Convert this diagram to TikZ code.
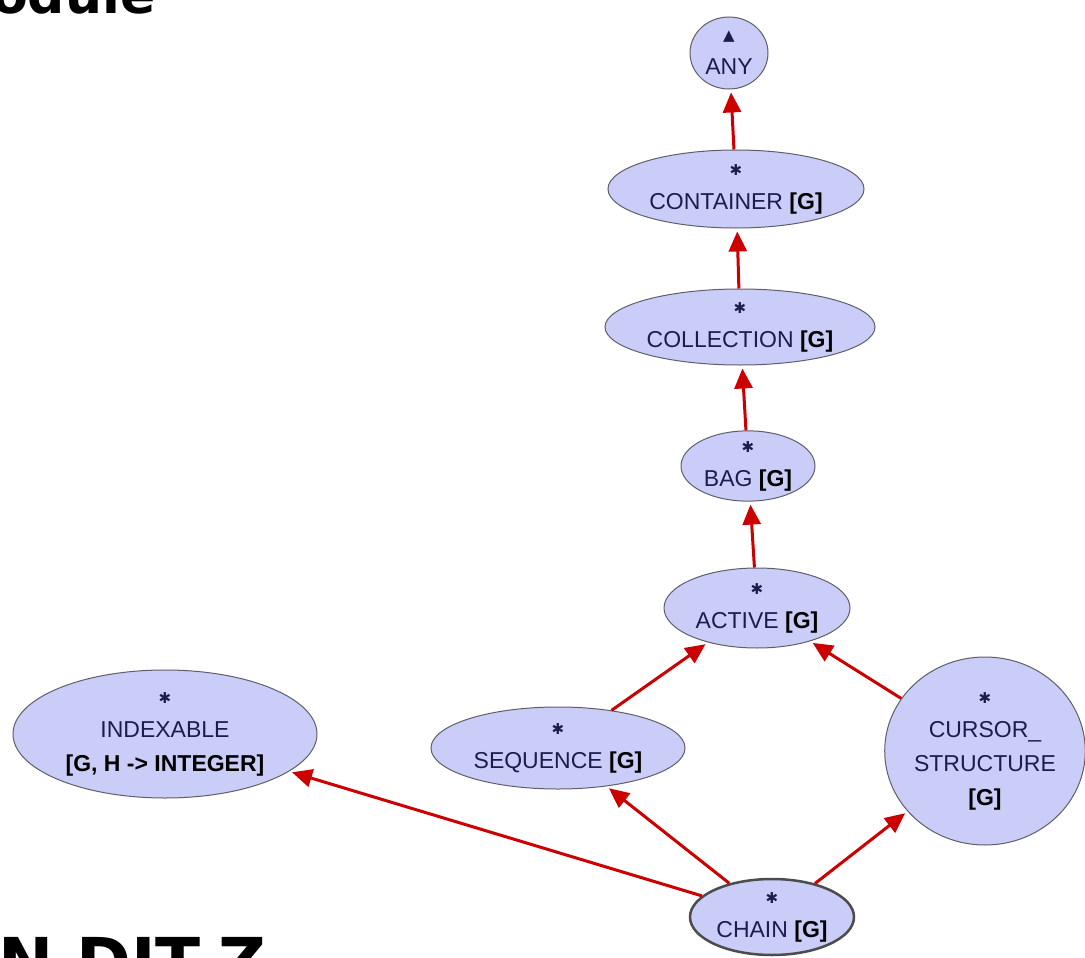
\documentclass[tikz,border=0pt]{standalone}
\usepackage{fontspec}
\setmainfont{Liberation Sans}
\newfontfamily\symfont{DejaVu Sans}
\usetikzlibrary{shapes,arrows.meta,positioning}

\definecolor{classfill}{RGB}{202,205,247}
\definecolor{classborder}{RGB}{95,95,105}
\definecolor{classtext}{RGB}{28,28,78}
\definecolor{inherit}{RGB}{204,0,0}

\newcommand{\deferredmark}{{\symfont\fontsize{15}{15}\selectfont\color{classtext}✱}}
\newcommand{\rootmark}{{\symfont\fontsize{15}{15}\selectfont\color{classtext}▲}}
\newcommand{\generic}[1]{\textbf{\color{black}#1}}

\tikzset{
  cls/.style={ellipse, draw=classborder, line width=1pt, fill=classfill, inner sep=0pt,
    align=center, text=classtext, font=\fontsize{23}{34}\selectfont},
  inh/.style={draw=inherit, line width=3pt, -{Triangle[length=20pt,width=18pt]}, shorten >=3pt},
  slide/.style={font=\symfont\bfseries\fontsize{#1}{#1}\selectfont, inner sep=0pt, text=black},
}

\begin{document}
\begin{tikzpicture}[x=1pt,y=-1pt]
  \fill[white] (0,0) rectangle (1085,958);
  \clip (0,0) rectangle (1085,958);
  % slide text cut by the frame
  \node[slide=52, anchor=base west] (title) at (-8,14) {odule};
  \node[slide=66, anchor=base west] (footer) at (-2,985) {N DIT-Z};
  %classes
  \node[cls, minimum width=78pt, minimum height=72pt] (any) at (729,53) {\rootmark\\ANY};
  \node[cls, minimum width=256pt, minimum height=78pt] (container) at (736,189) {\deferredmark\\CONTAINER \generic{[G]}};
  \node[cls, minimum width=270pt, minimum height=76pt] (collection) at (740,327) {\deferredmark\\COLLECTION \generic{[G]}};
  \node[cls, minimum width=134pt, minimum height=68pt] (bag) at (748,466) {\deferredmark\\BAG \generic{[G]}};
  \node[cls, minimum width=186pt, minimum height=80pt] (active) at (757,608) {\deferredmark\\ACTIVE \generic{[G]}};
  \node[cls, minimum width=254pt, minimum height=82pt] (sequence) at (558,748) {\deferredmark\\SEQUENCE \generic{[G]}};
  \node[cls, minimum width=304pt, minimum height=128pt] (indexable) at (165,734) {\deferredmark\\INDEXABLE\\\generic{[G, H -> INTEGER]}};
  \node[cls, minimum width=192pt, minimum height=188pt] (cursor) at (985,751) {\deferredmark\\CURSOR\_\\STRUCTURE\\\generic{[G]}};
  \node[cls, draw=black!70, line width=2.5pt, minimum width=164pt, minimum height=76pt] (chain) at (772,917) {\deferredmark\\CHAIN \generic{[G]}};
  %inheritance
  \draw[inh] (container) -- (any);
  \draw[inh] (collection) -- (container);
  \draw[inh] (bag) -- (collection);
  \draw[inh] (active) -- (bag);
  \draw[inh] (sequence) -- (active);
  \draw[inh] (cursor) -- (active);
  \draw[inh] (chain) -- (sequence);
  \draw[inh] (chain) -- (cursor);
  \draw[inh] (chain) -- (indexable);
\end{tikzpicture}
\end{document}
